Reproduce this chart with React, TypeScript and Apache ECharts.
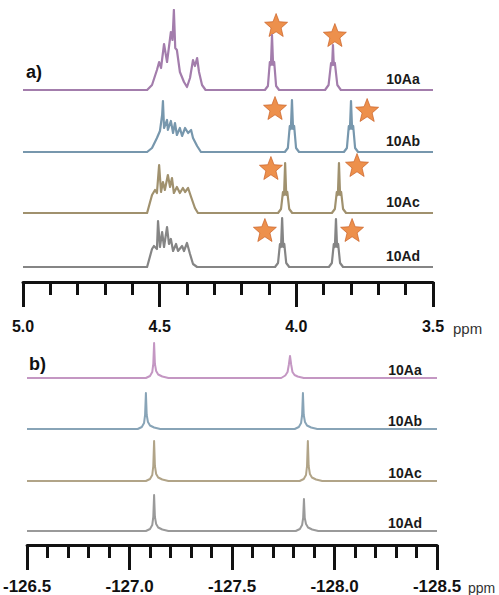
import React, { useEffect, useRef } from "react";
import * as echarts from "echarts";

// ---------- Panel a: 1H NMR (ppm, intensity) ----------
const H_LABELS = ["10Aa", "10Ab", "10Ac", "10Ad"];
const H_COLORS = ["#a37dac", "#7797ad", "#a0916e", "#858585"];

const H_MULT_AA = [[4.546,0],[4.528,5],[4.510,20],[4.502,28],[4.495,22],[4.484,46],[4.473,28],[4.459,58],[4.453,50],[4.448,80],[4.443,42],[4.437,40],[4.426,18],[4.411,8],[4.400,3],[4.389,12],[4.378,30],[4.371,24],[4.363,32],[4.356,18],[4.345,5],[4.332,0]];
const H_MULT_AB = [[4.546,0],[4.528,4],[4.510,14],[4.499,21],[4.491,37],[4.488,51],[4.484,24],[4.473,32],[4.470,22],[4.459,31],[4.451,19],[4.444,29],[4.437,17],[4.426,24],[4.418,16],[4.407,24],[4.396,19],[4.385,22],[4.378,14],[4.363,6],[4.349,0]];
const H_MULT_AC = [[4.546,0],[4.528,18],[4.517,23],[4.510,20],[4.502,48],[4.495,21],[4.488,31],[4.481,23],[4.470,38],[4.462,26],[4.455,35],[4.448,20],[4.437,26],[4.426,20],[4.415,25],[4.407,21],[4.396,25],[4.385,16],[4.371,5],[4.360,0]];
const H_MULT_AD = [[4.546,0],[4.528,18],[4.521,21],[4.510,18],[4.506,46],[4.499,20],[4.491,35],[4.484,20],[4.473,40],[4.466,23],[4.459,28],[4.451,16],[4.440,23],[4.433,16],[4.418,21],[4.411,16],[4.400,24],[4.389,13],[4.378,3],[4.363,0]];

const H_PEAK1_AA = [[4.115,0],[4.104,4],[4.097,28],[4.093,25],[4.089,55],[4.085,25],[4.081,28],[4.074,4],[4.063,0]];
const H_PEAK2_AA = [[3.895,0],[3.882,5],[3.873,27],[3.869,25],[3.866,45],[3.863,25],[3.859,27],[3.850,5],[3.837,0]];
const H_PEAK1_AB = [[4.042,0],[4.031,4],[4.024,26],[4.020,23],[4.016,52],[4.012,23],[4.008,26],[4.001,4],[3.990,0]];
const H_PEAK2_AB = [[3.826,0],[3.815,4],[3.808,26],[3.804,23],[3.800,51],[3.796,23],[3.792,26],[3.785,4],[3.774,0]];
const H_PEAK1_AC = [[4.067,0],[4.056,4],[4.049,21],[4.045,18],[4.041,50],[4.037,18],[4.033,21],[4.026,4],[4.015,0]];
const H_PEAK2_AC = [[3.870,0],[3.859,4],[3.852,21],[3.848,18],[3.844,50],[3.840,18],[3.836,21],[3.829,4],[3.818,0]];
const H_PEAK1_AD = [[4.078,0],[4.067,4],[4.060,23],[4.056,20],[4.052,49],[4.048,20],[4.044,23],[4.037,4],[4.026,0]];
const H_PEAK2_AD = [[3.881,0],[3.870,4],[3.863,23],[3.859,20],[3.855,48],[3.851,20],[3.847,23],[3.840,4],[3.829,0]];

// star markers (ppm, height above baseline)
const H_STARS = [
  [[4.074, 65], [3.859, 55]],
  [[4.078, 44], [3.741, 42]],
  [[4.093, 45], [3.778, 48]],
  [[4.115, 37], [3.796, 37]],
];

const H_TICK_MIN = 3.5;
const H_TICK_MAX = 5.0;
const H_TICK_STEP = 0.5;

// ---------- Panel b: 19F NMR ----------
const F_LABELS = ["10Aa", "10Ab", "10Ac", "10Ad"];
const F_COLORS = ["#c497c3", "#88a4b7", "#b1a488", "#9a9a9a"];

const F_PEAK1_AA = [[-127.08,0],[-127.10,2],[-127.111,6],[-127.116,14],[-127.12,35],[-127.124,14],[-127.13,7],[-127.14,3.5],[-127.16,1.5],[-127.19,0]];
const F_PEAK2_AA = [[-127.74,0],[-127.76,2.5],[-127.771,6],[-127.777,13],[-127.783,22],[-127.789,13],[-127.795,6],[-127.805,3],[-127.82,1.5],[-127.85,0]];
const F_PEAK1_AB = [[-127.04,0],[-127.06,2],[-127.071,6],[-127.076,14],[-127.08,36],[-127.084,14],[-127.09,7],[-127.10,3.5],[-127.12,1.5],[-127.15,0]];
const F_PEAK2_AB = [[-127.806,0],[-127.826,2],[-127.837,6],[-127.842,14],[-127.846,36],[-127.850,14],[-127.856,7],[-127.866,3.5],[-127.886,1.5],[-127.916,0]];
const F_PEAK1_AC = [[-127.08,0],[-127.10,2],[-127.111,6],[-127.116,15],[-127.12,40],[-127.124,15],[-127.13,7],[-127.14,3.5],[-127.16,1.5],[-127.19,0]];
const F_PEAK2_AC = [[-127.83,0],[-127.85,2],[-127.861,6],[-127.866,15],[-127.87,40],[-127.874,15],[-127.88,7],[-127.89,3.5],[-127.91,1.5],[-127.94,0]];
const F_PEAK1_AD = [[-127.08,0],[-127.10,2],[-127.111,6],[-127.116,14],[-127.12,36],[-127.124,14],[-127.13,7],[-127.14,3.5],[-127.16,1.5],[-127.19,0]];
const F_PEAK2_AD = [[-127.811,0],[-127.831,2],[-127.842,6],[-127.847,13],[-127.851,32],[-127.855,13],[-127.861,7],[-127.871,3.5],[-127.891,1.5],[-127.921,0]];

const F_TICK_MIN = -128.5;
const F_TICK_MAX = -126.5;
const F_TICK_STEP = 0.5;

const H_SPECTRA = [
  [...H_MULT_AA, ...H_PEAK1_AA, ...H_PEAK2_AA],
  [...H_MULT_AB, ...H_PEAK1_AB, ...H_PEAK2_AB],
  [...H_MULT_AC, ...H_PEAK1_AC, ...H_PEAK2_AC],
  [...H_MULT_AD, ...H_PEAK1_AD, ...H_PEAK2_AD],
];
const F_SPECTRA = [
  [...F_PEAK1_AA, ...F_PEAK2_AA],
  [...F_PEAK1_AB, ...F_PEAK2_AB],
  [...F_PEAK1_AC, ...F_PEAK2_AC],
  [...F_PEAK1_AD, ...F_PEAK2_AD],
];

const STAR_PATH =
  "path://M50,2 L62.9,34.2 L97.6,36.5 L70.9,58.8 L79.4,92.5 L50,74 L20.6,92.5 L29.1,58.8 L2.4,36.5 L37.1,34.2 Z";
const FONT = "'Liberation Sans', Arial, Helvetica, sans-serif";

export default function App() {
  const ref = useRef<HTMLDivElement>(null);

  useEffect(() => {
    document.body.style.margin = "0";
    if (!ref.current) return;
    const chart = echarts.init(ref.current, null, { renderer: "svg" });

    const A_LEFT = 23, A_W = 410, A_H = 80;
    const B_LEFT = 27, B_W = 410, B_H = 50;
    const A_BASE = [90, 152, 213, 267];
    const B_BASE = [378, 429, 481, 531];
    const A_AXIS_Y = 282;
    const B_AXIS_Y = 545;

    const grids: any[] = [];
    const xAxes: any[] = [];
    const yAxes: any[] = [];
    const series: any[] = [];
    const graphics: any[] = [];

    const hiddenX = (min: number, max: number, gi: number) => ({
      type: "value", gridIndex: gi, min, max, inverse: true, show: false,
    });
    const hiddenY = (max: number, gi: number) => ({
      type: "value", gridIndex: gi, min: 0, max, show: false,
    });

    H_SPECTRA.forEach((pts, i) => {
      const gi = grids.length;
      grids.push({ left: A_LEFT, width: A_W, top: A_BASE[i] - A_H, height: A_H });
      xAxes.push(hiddenX(H_TICK_MIN, H_TICK_MAX, gi));
      yAxes.push(hiddenY(A_H, gi));
      series.push({
        type: "line", xAxisIndex: gi, yAxisIndex: gi, silent: true,
        symbol: "none", smooth: false,
        lineStyle: { color: H_COLORS[i], width: 2.2, join: "round" },
        data: [[H_TICK_MAX, 0], ...pts, [H_TICK_MIN, 0]],
      });
      series.push({
        type: "scatter", xAxisIndex: gi, yAxisIndex: gi, silent: true, clip: false,
        symbol: STAR_PATH, symbolSize: 23,
        itemStyle: { color: "#e8741f", borderColor: "#c4561a", borderWidth: 0.8 },
        data: H_STARS[i],
      });
      graphics.push({
        type: "text", x: 403, y: A_BASE[i] - 11,
        style: { text: H_LABELS[i], fontSize: 14, fontWeight: "bold", fontFamily: FONT, fill: "#1a1a1a", align: "center", verticalAlign: "middle" },
      });
    });

    F_SPECTRA.forEach((pts, i) => {
      const gi = grids.length;
      grids.push({ left: B_LEFT, width: B_W, top: B_BASE[i] - B_H, height: B_H });
      xAxes.push(hiddenX(F_TICK_MIN, F_TICK_MAX, gi));
      yAxes.push(hiddenY(B_H, gi));
      series.push({
        type: "line", xAxisIndex: gi, yAxisIndex: gi, silent: true,
        symbol: "none", smooth: false,
        lineStyle: { color: F_COLORS[i], width: 2, join: "round" },
        data: [[F_TICK_MAX, 0], ...pts, [F_TICK_MIN, 0]],
      });
      graphics.push({
        type: "text", x: 405, y: B_BASE[i] - 8,
        style: { text: F_LABELS[i], fontSize: 14, fontWeight: "bold", fontFamily: FONT, fill: "#1a1a1a", align: "center", verticalAlign: "middle" },
      });
    });

    const scaleAxis = (min: number, max: number, step: number, gi: number, margin: number, fs: number) => ({
      type: "value", gridIndex: gi, min, max, interval: step, inverse: true, position: "bottom",
      axisLine: { show: true, onZero: false, lineStyle: { color: "#111", width: 3 } },
      axisTick: { show: true, inside: false, length: 25, lineStyle: { color: "#111", width: 3 } },
      minorTick: { show: true, splitNumber: 5, length: 13, lineStyle: { color: "#111", width: 3 } },
      splitLine: { show: false },
      minorSplitLine: { show: false },
      axisLabel: {
        show: true, margin, fontSize: fs, fontWeight: "bold", fontFamily: FONT, color: "#111",
        showMinLabel: true, showMaxLabel: true,
        formatter: (v: number) => v.toFixed(1),
      },
    });

    // axis for panel a
    let gi = grids.length;
    grids.push({ left: A_LEFT, width: A_W, top: A_AXIS_Y - 10, height: 10 });
    xAxes.push(scaleAxis(H_TICK_MIN, H_TICK_MAX, H_TICK_STEP, gi, 36, 16));
    yAxes.push(hiddenY(1, gi));
    // axis for panel b
    gi = grids.length;
    grids.push({ left: B_LEFT, width: B_W, top: B_AXIS_Y - 10, height: 10 });
    xAxes.push(scaleAxis(F_TICK_MIN, F_TICK_MAX, F_TICK_STEP, gi, 33, 17));
    yAxes.push(hiddenY(1, gi));

    graphics.push(
      { type: "text", x: 26, y: 72, style: { text: "a)", fontSize: 18, fontWeight: "bold", fontFamily: FONT, fill: "#111", align: "left", verticalAlign: "middle" } },
      { type: "text", x: 29, y: 364, style: { text: "b)", fontSize: 18, fontWeight: "bold", fontFamily: FONT, fill: "#111", align: "left", verticalAlign: "middle" } },
      { type: "text", x: 453, y: 328, style: { text: "ppm", fontSize: 15, fontFamily: FONT, fill: "#333", align: "left", verticalAlign: "middle" } },
      { type: "text", x: 468, y: 588, style: { text: "ppm", fontSize: 14, fontFamily: FONT, fill: "#333", align: "left", verticalAlign: "middle" } },
    );

    chart.setOption({
      animation: false,
      backgroundColor: "#ffffff",
      grid: grids,
      xAxis: xAxes,
      yAxis: yAxes,
      series,
      graphic: graphics,
    });

    return () => chart.dispose();
  }, []);

  return <div ref={ref} style={{ width: 499, height: 595 }} />;
}
